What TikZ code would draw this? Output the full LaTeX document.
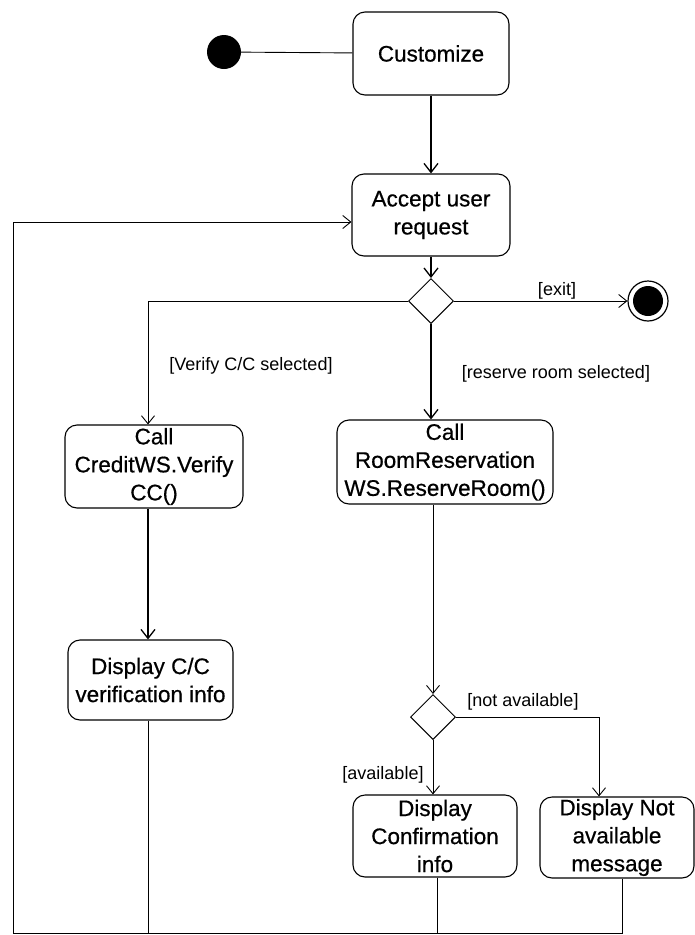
\documentclass[tikz,border=0pt]{standalone}
\usepackage{fontspec}
\setmainfont{Liberation Sans}
\newfontfamily\boxfont{Liberation Sans}[BoldFont={Liberation Sans},BoldFeatures={FakeBold=0.6}]
\usetikzlibrary{arrows.meta,shapes.geometric}
\begin{document}
\begin{tikzpicture}[x=1pt,y=1pt,
  act/.style={draw, rounded corners=12pt, line width=1.1pt, align=center, inner sep=0pt,
    font=\boxfont\bfseries\fontsize{22.5}{28}\selectfont},
  decision/.style={draw, diamond, aspect=1, minimum size=45pt, inner sep=0pt, line width=1pt},
  guard/.style={font=\fontsize{18}{20}\selectfont, inner sep=0pt},
  thinline/.style={line width=0.9pt},
  thinarr/.style={line width=0.9pt, -{Straight Barb[length=8pt,width=13pt,line width=0.9pt]}},
  thickarr/.style={line width=1.8pt, -{Straight Barb[length=9pt,width=14pt,line width=1.3pt]}}
]
\useasboundingbox (0,0) rectangle (695,-935);

% nodes
\node[circle, fill=black, minimum size=34pt, inner sep=0pt] (start) at (224,-52) {};
\node[act, minimum width=156pt, minimum height=83pt] (cust) at (431,-53.5) {Customize};
\node[act, minimum width=158pt, minimum height=82pt] (acc) at (431,-215) {Accept user\\request};
\node[decision] (d1) at (431,-301) {};
\node[circle, draw, line width=1.2pt, minimum size=40pt, inner sep=0pt] (fin) at (648,-301) {};
\fill (fin.center) circle (15pt);

\node[act, minimum width=178pt, minimum height=83pt] (credit) at (154,-466.5) {Call\\CreditWS.Verify\\CC()};
\node[act, minimum width=165pt, minimum height=80pt] (dispcc) at (150.5,-680) {Display C/C\\verification info};
\node[act, minimum width=216pt, minimum height=84pt] (room) at (445,-462) {Call\\RoomReservation\\WS.ReserveRoom()};

\node[decision] (d2) at (433,-717) {};
\node[act, minimum width=164pt, minimum height=82pt] (conf) at (435,-836) {Display\\Confirmation\\info};
\node[act, minimum width=154pt, minimum height=81pt] (notav) at (617,-837.5) {Display Not\\available\\message};

% guards
\node[guard] (gexit) at (557,-291) {[exit]};
\node[guard] (gver) at (251,-366) {[Verify C/C selected]};
\node[guard] (gres) at (556,-374) {[reserve room selected]};
\node[guard] (gnot) at (523,-702) {[not available]};
\node[guard] (gav) at (383,-775) {[available]};

% helper coordinates
\coordinate (xcc) at (148,0);
\coordinate (xna) at (599,0);
\coordinate (xcf) at (437,0);
\coordinate (xnb) at (622,0);
\coordinate (bl) at (13,-933);
\coordinate (br) at (622,-933);

% connectors
\draw[thinline] (start) -- (cust);
\draw[thickarr] (cust.south) -- (acc.north);
\draw[thickarr] (acc.south) -- (d1.north);
\draw[thinarr] (d1.east) -- (fin.west);
\draw[thinarr] (d1.west) -| (xcc |- credit.north);
\draw[thickarr] (d1.south) -- (d1.south |- room.north);
\draw[thickarr] (xcc |- credit.south) -- (xcc |- dispcc.north);
\draw[thinarr] (d2.north |- room.south) -- (d2.north);
\draw[thinarr] (d2.east) -| (xna |- notav.north);
\draw[thinarr] (d2.south) -- (d2.south |- conf.north);

% return path
\draw[thinline] (xcc |- dispcc.south) -- (xcc |- bl);
\draw[thinline] (xcf |- conf.south) -- (xcf |- bl);
\draw[thinline] (xnb |- notav.south) -- (br) -- (bl);
\draw[thinarr] (bl) |- ([yshift=-7pt]acc.west);
\end{tikzpicture}
\end{document}
